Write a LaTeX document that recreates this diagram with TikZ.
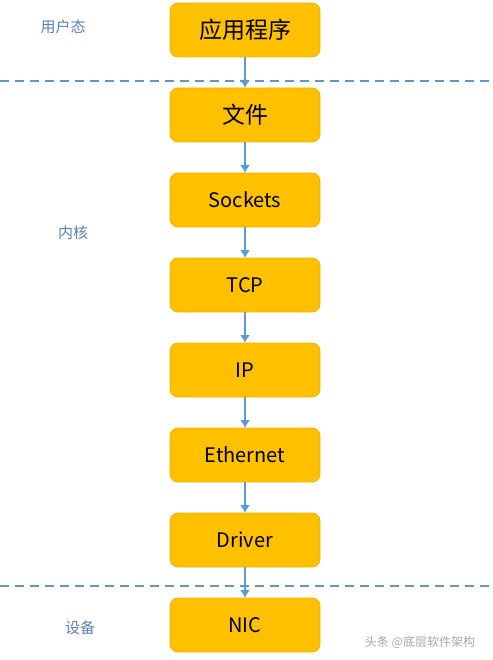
\documentclass[tikz,border=0pt]{standalone}
\usepackage{fontspec}
\setmainfont{Noto Sans CJK SC}
\usetikzlibrary{positioning,arrows.meta}
\definecolor{boxgold}{HTML}{FFC000}
\definecolor{boxedge}{HTML}{F0B400}
\definecolor{arrowblue}{HTML}{5B9BD5}
\definecolor{labelblue}{HTML}{5A7FB8}

\begin{document}
\begin{tikzpicture}[x=1pt,y=-1pt,
    layer/.style={rectangle, rounded corners=8pt, fill=boxgold, draw=boxedge, line width=0.8pt,
      minimum width=150pt, minimum height=54pt, outer sep=0pt, font=\fontsize{20}{22}\selectfont},
    cnlayer/.style={layer, font=\fontsize{23}{25}\selectfont},
    flow/.style={-{Latex[length=8pt,width=10pt]}, arrowblue, line width=2pt},
    border/.style={arrowblue!85!gray, line width=1.1pt, dash pattern=on 9pt off 6pt},
    zone/.style={labelblue, font=\fontsize{15}{17}\selectfont}]
    \useasboundingbox (0,0) rectangle (492,660);

    \node[cnlayer] (app) at (245,30) {应用程序};
    \node[cnlayer, below=31pt of app] (file) {文件};
    \node[layer, below=31pt of file] (sock) {Sockets};
    \node[layer, below=31pt of sock] (tcp) {TCP};
    \node[layer, below=31pt of tcp] (ip) {IP};
    \node[layer, below=31pt of ip] (eth) {Ethernet};
    \node[layer, below=31pt of eth] (drv) {Driver};
    \node[layer, below=31pt of drv] (nic) {NIC};

    \draw[flow] (app) -- (file);
    \draw[flow] (file) -- (sock);
    \draw[flow] (sock) -- (tcp);
    \draw[flow] (tcp) -- (ip);
    \draw[flow] (ip) -- (eth);
    \draw[flow] (eth) -- (drv);
    \draw[flow] (drv) -- (nic);

    % user / kernel / device borders
    \draw[border] (0,81) -- (492,81);
    \draw[border] (0,586) -- (492,586);

    \node[zone] (user) at (63,27) {用户态};
    \node[zone] (kern) at (73,233) {内核};
    \node[zone] (dev) at (80,628) {设备};

    \node[gray!70, font=\fontsize{12}{14}\selectfont] (mark) at (420,642) {头条 @底层软件架构};
\end{tikzpicture}
\end{document}
